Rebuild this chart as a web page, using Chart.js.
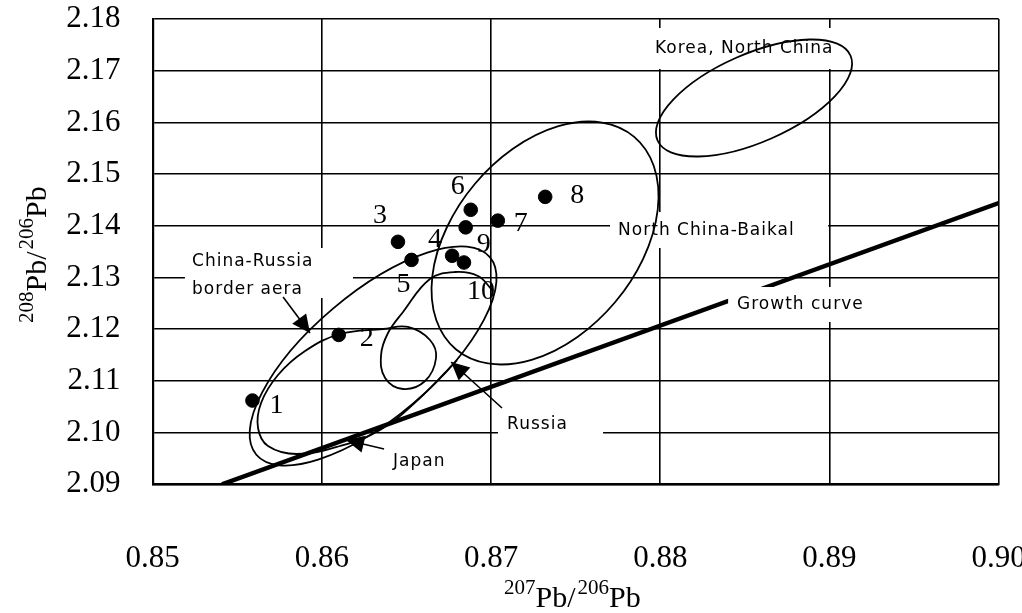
<!DOCTYPE html>
<html>
<head>
<meta charset="utf-8">
<script src="https://cdn.jsdelivr.net/npm/chart.js@4.4.1/dist/chart.umd.min.js"></script>
<style>
  html, body { margin: 0; padding: 0; background: #fff; }
  #wrap { position: relative; width: 1022px; height: 613px; }
</style>
</head>
<body>
<div id="wrap"><canvas id="leadChart" width="1022" height="613"></canvas></div>
<script>
// samples (207Pb/206Pb, 208Pb/206Pb)
const sampleLabels = ["1", "2", "3", "4", "5", "6", "7", "8", "9", "10"];
const sampleX = [0.8559, 0.8610, 0.8645, 0.8677, 0.8653, 0.8688, 0.8704, 0.8732, 0.8685, 0.8684];
const sampleY = [2.1062, 2.1189, 2.1369, 2.1342, 2.1334, 2.1431, 2.1410, 2.1456, 2.1397, 2.1329];

// growth curve
const growthX = [0.8541, 0.9000];
const growthY = [2.0900, 2.1444];

// lead isotope fields as ellipses: centre, end of one semi-axis, end of the conjugate semi-axis
const fieldNames = ["Korea, North China", "North China-Baikal", "China-Russia border aera"];
const fieldCx = [0.88554, 0.87319, 0.86303];
const fieldCy = [2.16472, 2.13667, 2.11482];
const fieldUx = [0.89124, 0.87846, 0.86993];
const fieldUy = [2.17294, 2.15721, 2.13393];
const fieldVx = [0.88659, 0.87734, 0.86540];
const fieldVy = [2.15694, 2.12526, 2.10565];

// hand-drawn outline of the Japan / Russia fields
const outlineX = [0.86799, 0.86580, 0.86344, 0.86108, 0.85853, 0.85682, 0.85623, 0.85641, 0.85741,
  0.85901, 0.86108, 0.86362, 0.86509, 0.86639, 0.86675, 0.86610, 0.86480, 0.86374, 0.86350, 0.86391,
  0.86480, 0.86639, 0.86787, 0.86923, 0.87006];
const outlineY = [2.11404, 2.10669, 2.10050, 2.09741, 2.09586, 2.09741, 2.10089, 2.10573, 2.11114,
  2.11578, 2.11907, 2.12004, 2.12043, 2.11791, 2.11443, 2.10998, 2.10843, 2.11056, 2.11501, 2.11926,
  2.12333, 2.12971, 2.13106, 2.13029, 2.12758];

// text placed on the plot (left edge, middle) and the white boxes behind it
const noteText = ["Korea, North China", "North China-Baikal", "China-Russia", "border aera", "Growth curve", "Russia", "Japan"];
const noteX = [0.87969, 0.87751, 0.85233, 0.85233, 0.88454, 0.87095, 0.86421];
const noteY = [2.17420, 2.13899, 2.13300, 2.12758, 2.12468, 2.10147, 2.09431];
const boxX0 = [0.87928, 0.87703, 0.85191, 0.88401, 0.87041, 0.86379];
const boxX1 = [0.89092, 0.88992, 0.86184, 0.89240, 0.87662, 0.86758];
const boxY0 = [2.17826, 2.14267, 2.13571, 2.12816, 2.10437, 2.09663];
const boxY1 = [2.17033, 2.13571, 2.12603, 2.12139, 2.09857, 2.09157];

// arrows: from tail to head
const arrowFromX = [0.85771, 0.87065, 0.86368];
const arrowFromY = [2.12623, 2.10476, 2.09683];
const arrowToX = [0.85930, 0.86764, 0.86143];
const arrowToY = [2.11926, 2.11366, 2.09857];

const xTicks = [0.85, 0.86, 0.87, 0.88, 0.89, 0.90];

const serif = "'Liberation Serif', 'DejaVu Serif', serif";
const gothic = "'DejaVu Sans', sans-serif";

const samples = sampleX.map((x, i) => ({ x: x, y: sampleY[i] }));
const growth = growthX.map((x, i) => ({ x: x, y: growthY[i] }));
const outline = outlineX.map((x, i) => ({ x: x, y: outlineY[i] }));

// label offsets of the sample numbers, in pixels
const numOffset = [[24, 5], [28, 4], [-18, -26], [-17, -16], [-8, 25], [-13, -23], [23, 3], [32, -1], [18, 17], [17, 29]];

function drawSup(ctx, parts, x, y) {
  // parts: [text, isSup]
  let cx = x;
  parts.forEach(([t, sup]) => {
    ctx.font = (sup ? "21px " : "30px ") + serif;
    ctx.fillText(t, cx, sup ? y - 13 : y);
    cx += ctx.measureText(t).width + (sup ? 0 : 2);
  });
  return cx - x;
}

const fieldPlugin = {
  id: "fields",
  afterDatasetDraw(chart, args) {
    if (args.index !== 0) return;
    const { ctx, chartArea, scales } = chart;
    const sx = scales.x, sy = scales.y;
    ctx.save();
    // white boxes and field names
    ctx.fillStyle = "#fff";
    boxX0.forEach((x0, i) => {
      const l = sx.getPixelForValue(x0), r = sx.getPixelForValue(boxX1[i]);
      const t = sy.getPixelForValue(boxY0[i]), b = sy.getPixelForValue(boxY1[i]);
      ctx.fillRect(l, t, r - l, b - t);
    });
    ctx.fillStyle = "#000";
    ctx.font = "17px " + gothic;
    ctx.letterSpacing = "1px";
    ctx.textBaseline = "middle";
    ctx.textAlign = "left";
    noteText.forEach((t, i) => {
      ctx.fillText(t, sx.getPixelForValue(noteX[i]), sy.getPixelForValue(noteY[i]));
    });
    ctx.letterSpacing = "0px";
    // ellipses
    ctx.beginPath();
    ctx.rect(chartArea.left, chartArea.top, chartArea.width, chartArea.height);
    ctx.clip();
    ctx.strokeStyle = "#000";
    ctx.lineWidth = 1.8;
    fieldCx.forEach((cx, i) => {
      const px = sx.getPixelForValue(cx), py = sy.getPixelForValue(fieldCy[i]);
      const ux = sx.getPixelForValue(fieldUx[i]) - px, uy = sy.getPixelForValue(fieldUy[i]) - py;
      const vx = sx.getPixelForValue(fieldVx[i]) - px, vy = sy.getPixelForValue(fieldVy[i]) - py;
      ctx.save();
      ctx.beginPath();
      ctx.transform(ux, uy, vx, vy, px, py);
      ctx.arc(0, 0, 1, 0, Math.PI * 2);
      ctx.restore();
      ctx.stroke();
    });
    ctx.restore();
  },
  afterDatasetsDraw(chart) {
    const { ctx, scales } = chart;
    const sx = scales.x, sy = scales.y;
    ctx.save();
    // arrows
    ctx.strokeStyle = "#000";
    ctx.fillStyle = "#000";
    ctx.lineWidth = 1.6;
    arrowFromX.forEach((fx, i) => {
      const x0 = sx.getPixelForValue(fx), y0 = sy.getPixelForValue(arrowFromY[i]);
      const x1 = sx.getPixelForValue(arrowToX[i]), y1 = sy.getPixelForValue(arrowToY[i]);
      const a = Math.atan2(y1 - y0, x1 - x0);
      ctx.beginPath();
      ctx.moveTo(x0, y0);
      ctx.lineTo(x1, y1);
      ctx.stroke();
      ctx.beginPath();
      ctx.moveTo(x1, y1);
      ctx.lineTo(x1 - 20 * Math.cos(a - 0.45), y1 - 20 * Math.sin(a - 0.45));
      ctx.lineTo(x1 - 20 * Math.cos(a + 0.45), y1 - 20 * Math.sin(a + 0.45));
      ctx.closePath();
      ctx.fill();
    });
    // sample numbers
    ctx.font = "28px " + serif;
    ctx.textAlign = "center";
    ctx.textBaseline = "middle";
    samples.forEach((p, i) => {
      const x = sx.getPixelForValue(p.x), y = sy.getPixelForValue(p.y);
      ctx.fillText(sampleLabels[i], x + numOffset[i][0], y + numOffset[i][1]);
    });
    // axis titles with superscripts
    ctx.textAlign = "left";
    ctx.textBaseline = "alphabetic";
    drawSup(ctx, [["207", true], ["Pb/", false], ["206", true], ["Pb", false]], 504, 607);
    ctx.translate(46, 323);
    ctx.rotate(-Math.PI / 2);
    drawSup(ctx, [["208", true], ["Pb/", false], ["206", true], ["Pb", false]], 0, 0);
    ctx.restore();
  }
};

function noPadding(axis) {
  axis.paddingLeft = 0;
  axis.paddingRight = 0;
  axis.paddingTop = 0;
  axis.paddingBottom = 0;
}

new Chart(document.getElementById("leadChart"), {
  type: "scatter",
  data: {
    datasets: [
      {
        label: "Growth curve",
        data: growth,
        showLine: true,
        borderColor: "#000",
        borderWidth: 4.5,
        borderCapStyle: "butt",
        pointRadius: 0
      },
      {
        label: "Japan / Russia",
        data: outline,
        showLine: true,
        tension: 0.4,
        borderColor: "#000",
        borderWidth: 1.8,
        pointRadius: 0
      },
      {
        label: "Samples",
        data: samples,
        backgroundColor: "#000",
        borderColor: "#000",
        pointRadius: 6.8,
        pointHoverRadius: 6.8
      }
    ]
  },
  plugins: [fieldPlugin],
  options: {
    responsive: false,
    animation: false,
    layout: { autoPadding: false, padding: { left: 0, right: 23.3, top: 19, bottom: 0 } },
    plugins: {
      legend: { display: false },
      tooltip: { enabled: false }
    },
    scales: {
      x: {
        type: "linear",
        min: 0.85,
        max: 0.90,
        afterBuildTicks: axis => { axis.ticks = xTicks.map(v => ({ value: v })); },
        afterFit: axis => { axis.height = 128.7; noPadding(axis); },
        grid: { color: "#000", lineWidth: 1.6, drawTicks: false },
        border: { color: "#000", width: 2.2 },
        ticks: {
          color: "#000",
          padding: 56,
          maxRotation: 0,
          autoSkip: false,
          font: { family: serif, size: 31 },
          callback: v => v.toFixed(2)
        }
      },
      y: {
        type: "linear",
        min: 2.09,
        max: 2.18,
        afterFit: axis => { axis.width = 152.6; noPadding(axis); },
        ticks: {
          stepSize: 0.01,
          color: "#000",
          padding: 32,
          font: { family: serif, size: 31 },
          callback: v => v.toFixed(2)
        },
        grid: { color: "#000", lineWidth: 1.6, drawTicks: false },
        border: { color: "#000", width: 2.2 }
      }
    }
  }
});
</script>
</body>
</html>
